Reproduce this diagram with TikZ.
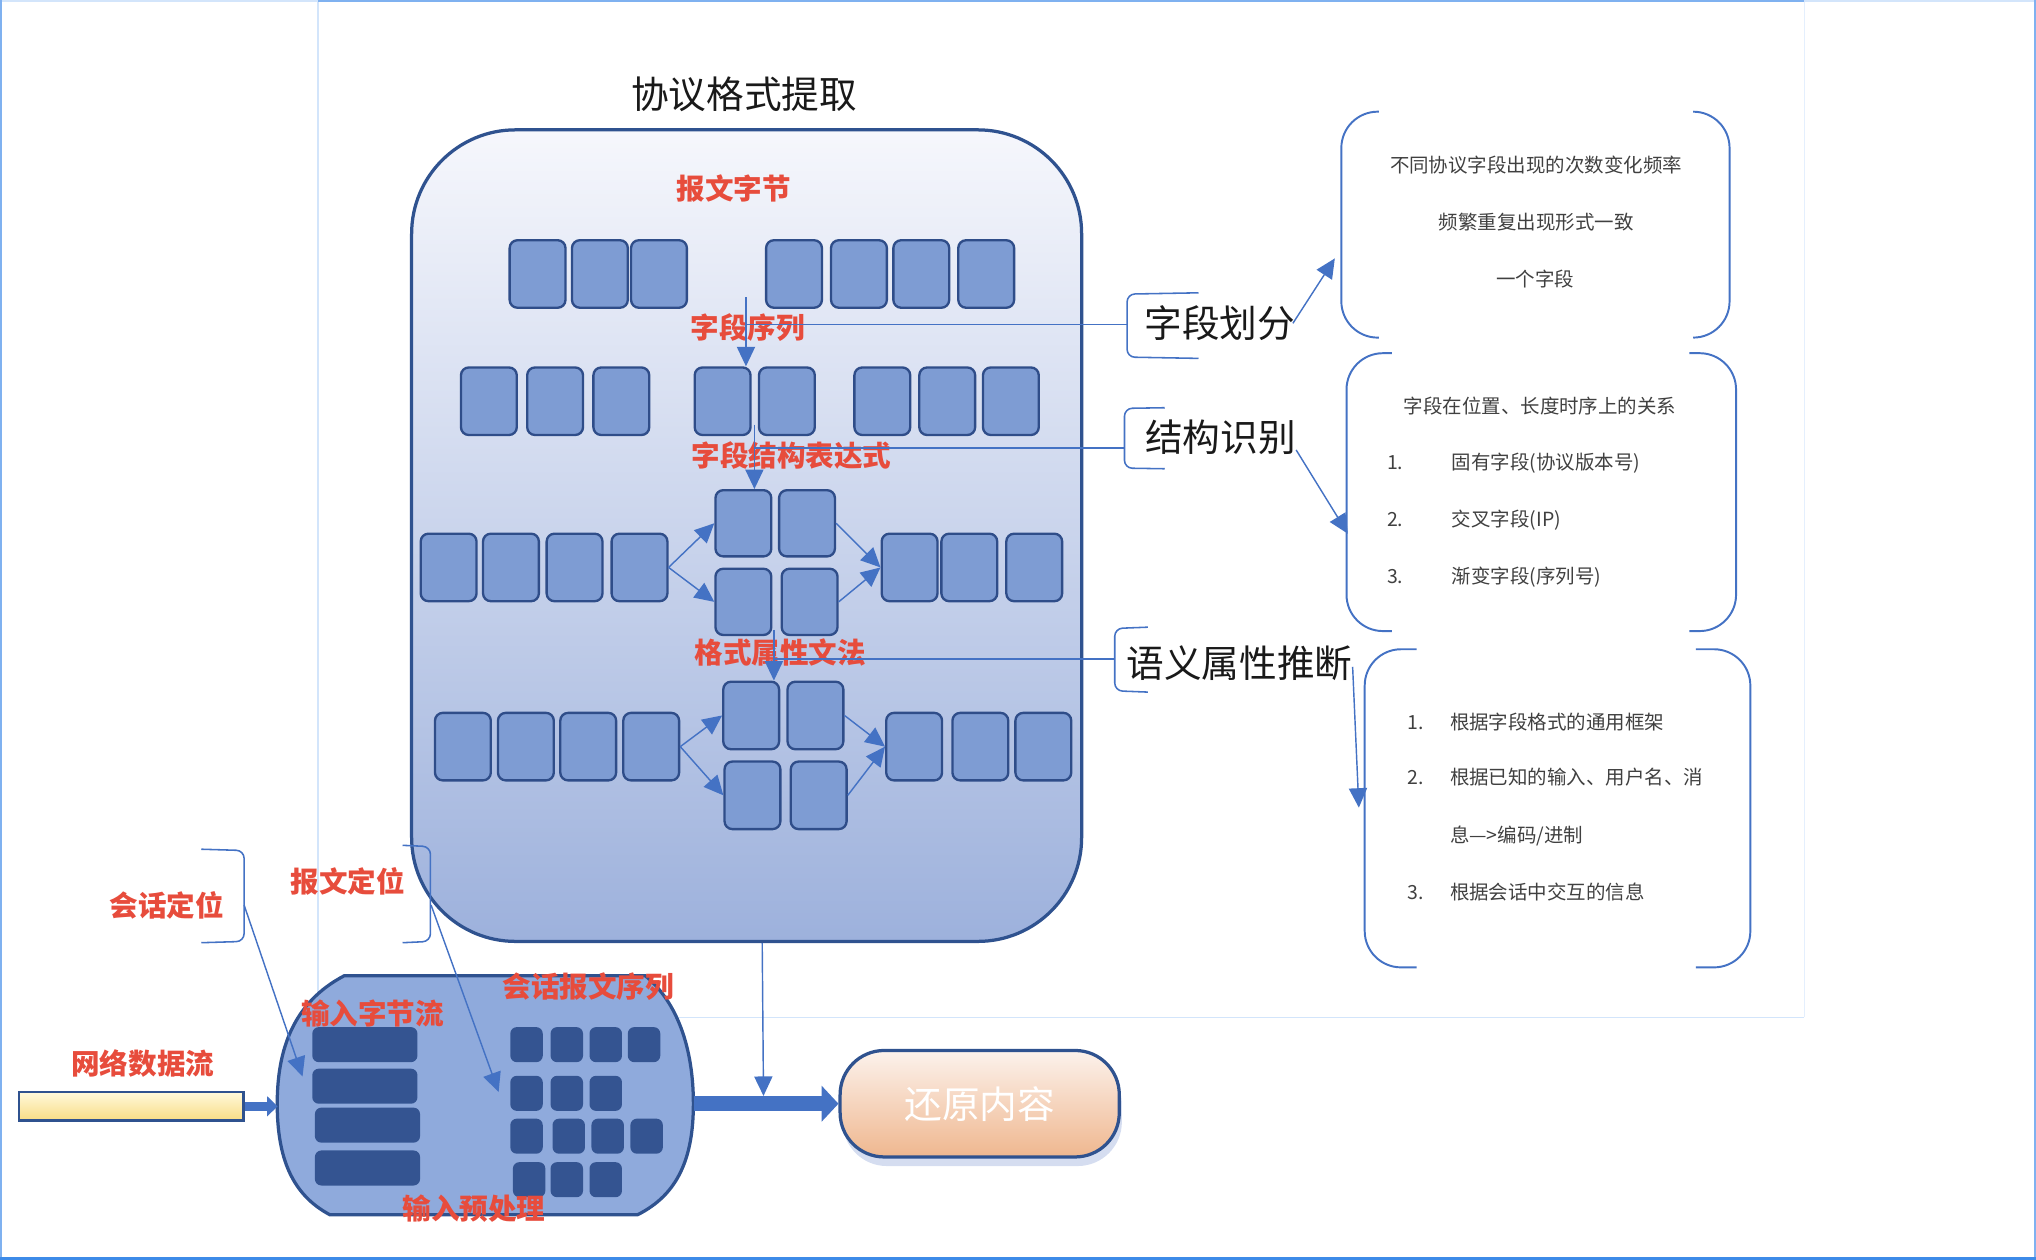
\documentclass[tikz,border=0pt]{standalone}
\usepackage{fontspec}
\setmainfont{Noto Sans CJK SC}
\usetikzlibrary{arrows.meta,shadows}

\definecolor{linkblue}{HTML}{4472C4}
\definecolor{edgeblue}{HTML}{2F528F}
\definecolor{celledge}{HTML}{2F4D89}
\definecolor{cellfill}{HTML}{7E9CD3}
\definecolor{darkcell}{HTML}{345491}
\definecolor{prefill}{HTML}{8FAADC}
\definecolor{boxtop}{HTML}{F6F7FC}
\definecolor{boxbot}{HTML}{9DB1DC}
\definecolor{labred}{HTML}{E74C3C}
\definecolor{peachtop}{HTML}{FCF2EC}
\definecolor{peachmid}{HTML}{F3C6A5}
\definecolor{peachbot}{HTML}{EFB78F}
\definecolor{yellowtop}{HTML}{FFF9DC}
\definecolor{yellowbot}{HTML}{F8DC84}
\definecolor{shadowblue}{HTML}{B9C7E6}
\definecolor{framedark}{HTML}{3D8BE8}
\definecolor{framemid}{HTML}{7FB1F0}
\definecolor{framelight}{HTML}{D3E5FB}

\begin{document}
\begin{tikzpicture}[
 x=1pt, y=-1pt,
 cell/.style={draw=celledge, fill=cellfill, line width=1.8pt, rounded corners=6pt, minimum width=43pt, minimum height=52pt, inner sep=0pt},
 dcell/.style={fill=darkcell, rounded corners=5pt, minimum width=25pt, minimum height=27pt, inner sep=0pt},
 bar/.style={dcell, minimum width=81pt},
 redlab/.style={text=labred, font=\fontsize{22}{24}\selectfont\bfseries, inner sep=0pt},
 biglab/.style={text=black!90, font=\fontsize{29}{31}\selectfont, inner sep=0pt},
 note/.style={text=black!75, font=\fontsize{15}{17}\selectfont, inner sep=0pt, text height=12pt, text depth=3pt},
 arrow/.style={draw=linkblue, line width=1.1pt, -{Triangle[length=15pt,width=14pt]}},
 link/.style={draw=linkblue, line width=1.1pt},
 brace/.style={draw=linkblue, line width=1.2pt, rounded corners=6pt},
 paren/.style={draw=linkblue, line width=1.5pt, rounded corners=28pt}
]
\useasboundingbox (0,0) rectangle (1568,970);

% 边框
\draw[framelight, line width=1pt] (245,0) -- (245,783.5) -- (1389.5,783.5);
\draw[framelight!60, line width=0.8pt] (1389.5,783.5) -- (1389.5,0);
\draw[framelight, line width=1.2pt] (0,0.6) -- (1568,0.6);
\draw[framemid, line width=1.2pt] (245,0.6) -- (1389.5,0.6);
\draw[framemid, line width=1.2pt] (0.6,0) -- (0.6,970);
\draw[framemid, line width=1.2pt] (1567.4,0) -- (1567.4,970);
\draw[framedark, line width=2.2pt] (0,968.9) -- (1568,968.9);

% 协议格式提取
\node[font=\fontsize{29}{31}\selectfont, text=black!90] (title) at (573,73) {协议格式提取};
\node[draw=edgeblue, line width=2.5pt, rounded corners=80pt, minimum width=516pt, minimum height=625pt, top color=boxtop, bottom color=boxbot] (fmt) at (575,412.5) {};

% 报文字节
\node[cell] (a1) at (414,211) {};
\node[cell] (a2) at (462,211) {};
\node[cell] (a3) at (507.5,211) {};
\node[cell] (a4) at (611.5,211) {};
\node[cell] (a5) at (661.5,211) {};
\node[cell] (a6) at (709.5,211) {};
\node[cell] (a7) at (759.5,211) {};

% 字段序列
\node[cell] (b1) at (376.5,309) {};
\node[cell] (b2) at (427.5,309) {};
\node[cell] (b3) at (478.5,309) {};
\node[cell] (b4) at (556.5,309) {};
\node[cell] (b5) at (606,309) {};
\node[cell] (b6) at (679.5,309) {};
\node[cell] (b7) at (729.5,309) {};
\node[cell] (b8) at (778.5,309) {};

% 字段结构表达式
\node[cell] (c1) at (345.5,437) {};
\node[cell] (c2) at (393.5,437) {};
\node[cell] (c3) at (442.5,437) {};
\node[cell] (c4) at (492.5,437) {};
\node[cell, minimum height=51pt] (c5) at (572.5,403) {};
\node[cell, minimum height=51pt] (c6) at (621.5,403) {};
\node[cell, minimum height=51pt] (c7) at (572.5,463.5) {};
\node[cell, minimum height=51pt] (c8) at (623.5,463.5) {};
\node[cell] (c9) at (700.5,437) {};
\node[cell] (c10) at (746.5,437) {};
\node[cell] (c11) at (796.5,437) {};

% 格式属性文法
\node[cell] (d1) at (356.5,575) {};
\node[cell] (d2) at (405,575) {};
\node[cell] (d3) at (453,575) {};
\node[cell] (d4) at (501.5,575) {};
\node[cell] (d5) at (578.5,551) {};
\node[cell] (d6) at (628,551) {};
\node[cell] (d7) at (579.5,612.5) {};
\node[cell] (d8) at (630.5,612.5) {};
\node[cell] (d9) at (704,575) {};
\node[cell] (d10) at (755,575) {};
\node[cell] (d11) at (803.5,575) {};

% 红色标签
\node[redlab] (bytes) at (565,145) {报文字节};
\node[redlab] (seq) at (576,252) {字段序列};
\node[redlab] (expr) at (609.5,351) {字段结构表达式};
\node[redlab] (gram) at (601,502.5) {格式属性文法};

% 框内箭头
\coordinate (s1) at (574.5,229);
\coordinate (s2) at (581,327);
\coordinate (s3) at (596,485);
\draw[arrow] (s1) -- (s1 |- b4.north);
\draw[arrow] (s2) -- (s2 |- c5.north);
\draw[arrow] (s3) -- (s3 |- d5.north);
\draw[arrow] (c4.east) -- (c5.west);
\draw[arrow] (c4.east) -- (c7.west);
\draw[arrow] (c6.east) -- (c9.west);
\draw[arrow] (c8.east) -- (c9.west);
\draw[arrow] (d4.east) -- (d5.west);
\draw[arrow] (d4.east) -- (d7.west);
\draw[arrow] (d6.east) -- (d9.west);
\draw[arrow] (d8.east) -- (d9.west);

% 右侧分支
\node[biglab] (div) at (939.5,249) {字段划分};
\node[biglab] (struct) at (940,336.5) {结构识别};
\node[biglab] (sem) at (954.5,510.5) {语义属性推断};

\draw[brace] (923,225.5) -- (868,226.5) -- (868,275) -- (923,276);
\draw[brace] (897,314) -- (866,314.5) -- (866,360.5) -- (897,361);
\draw[brace] (884,483) -- (858.5,484) -- (858.5,532) -- (884,533);
\coordinate (k1) at (868,250);
\coordinate (k2) at (866,345);
\coordinate (k3) at (858.5,507.5);
\draw[link] (k1 -| s1) -- (k1);
\draw[link] (k2 -| s2) -- (k2);
\draw[link] (k3 -| s3) -- (k3);

\coordinate (t1) at (1028,199);
\coordinate (t2) at (1038,411);
\coordinate (t3) at (1046.5,622);
\draw[arrow] ([xshift=-2pt]div.east) -- (t1);
\draw[arrow] ([yshift=-10pt]struct.east) -- (t2);
\draw[arrow] ([yshift=-3pt]sem.east) -- (t3);

% 说明框
\draw[paren] (1062,86) -- (1033,86) -- (1033,260) -- (1062,260);
\draw[paren] (1304,86) -- (1332,86) -- (1332,260) -- (1304,260);
\draw[paren] (1072,272) -- (1037,272) -- (1037,486) -- (1072,486);
\draw[paren] (1301,272) -- (1337,272) -- (1337,486) -- (1301,486);
\draw[paren] (1091,500) -- (1051,500) -- (1051,745) -- (1091,745);
\draw[paren] (1306,500) -- (1348,500) -- (1348,745) -- (1306,745);

\node[note] (g1a) at (1183,128) {不同协议字段出现的次数变化频率};
\node[note] (g1b) at (1183,172) {频繁重复出现形式一致};
\node[note] (g1c) at (1182.5,216) {一个字段};

\node[note] (g2a) at (1186,314) {字段在位置、长度时序上的关系};
\node[note, anchor=west] (g2n1) at (1068,357) {1.};
\node[note, anchor=west] (g2b) at (1118,357) {固有字段(协议版本号)};
\node[note, anchor=west] (g2n2) at (1068,401) {2.};
\node[note, anchor=west] (g2c) at (1118,401) {交叉字段(IP)};
\node[note, anchor=west] (g2n3) at (1068,445) {3.};
\node[note, anchor=west] (g2d) at (1118,445) {渐变字段(序列号)};

\node[note, anchor=west] (g3n1) at (1084,557) {1.};
\node[note, anchor=west] (g3a) at (1116.5,557) {根据字段格式的通用框架};
\node[note, anchor=west] (g3n2) at (1084,600) {2.};
\node[note, anchor=west] (g3b) at (1116.5,600) {根据已知的输入、用户名、消};
\node[note, anchor=west] (g3c) at (1116.5,644) {息—>编码/进制};
\node[note, anchor=west] (g3n3) at (1084,688) {3.};
\node[note, anchor=west] (g3d) at (1116.5,688) {根据会话中交互的信息};

% 输入预处理
\node[minimum width=320pt, minimum height=184pt, inner sep=0pt] (pre) at (374,843.5) {};
\draw[edgeblue, line width=2.5pt, fill=prefill]
 (265,751.5) -- (497,751.5) .. controls (522,772) and (534,808) .. (534,850)
 .. controls (534,892) and (522,920) .. (491,935.5) -- (254,935.5)
 .. controls (225,920) and (213.5,892) .. (213.5,850)
 .. controls (213.5,808) and (226,772) .. (265,751.5) -- cycle;

\node[bar] (w1) at (281,804.5) {};
\node[bar] (w2) at (281,836.5) {};
\node[bar] (w3) at (283,866.5) {};
\node[bar] (w4) at (283,899.5) {};

\node[dcell] (m1) at (405.5,804.5) {};
\node[dcell] (m2) at (436.5,804.5) {};
\node[dcell] (m3) at (466.5,804.5) {};
\node[dcell] (m4) at (496,804.5) {};
\node[dcell] (m5) at (405.5,842) {};
\node[dcell] (m6) at (436.5,842) {};
\node[dcell] (m7) at (466.5,842) {};
\node[dcell] (m8) at (405.5,875) {};
\node[dcell] (m9) at (438,875) {};
\node[dcell] (m10) at (468,875) {};
\node[dcell] (m11) at (498,875) {};
\node[dcell] (m12) at (407.5,908.5) {};
\node[dcell] (m13) at (436.5,908.5) {};
\node[dcell] (m14) at (466.5,908.5) {};

\node[redlab] (inlab) at (287,780.5) {输入字节流};
\node[redlab] (seqlab) at (453,760) {会话报文序列};
\node[redlab] (prelab) at (365,931) {输入预处理};

% 网络数据流
\node[draw=edgeblue, line width=2pt, top color=yellowtop, bottom color=yellowbot, minimum width=173pt, minimum height=22pt, inner sep=0pt] (net) at (101,852) {};
\node[redlab] (netlab) at (110,819) {网络数据流};
\draw[linkblue, line width=7pt, -{Triangle[length=8pt,width=15pt]}] (net.east) -- (net.east -| pre.west);

% 还原内容
\node[draw=edgeblue, line width=2.5pt, rounded corners=34pt, minimum width=215pt, minimum height=82pt, top color=peachtop, middle color=peachmid, bottom color=peachbot, text=white, font=\fontsize{29}{31}\selectfont, drop shadow={shadow xshift=2pt, shadow yshift=-7pt, fill=shadowblue, opacity=0.6}] (restore) at (754.5,850) {还原内容};
\draw[linkblue, line width=11.5pt, -{Triangle[length=13pt,width=27pt]}] (restore.west -| pre.east) -- (restore.west);

\coordinate (drop) at (588,844);
\draw[arrow] ([xshift=12pt]fmt.south) -- (drop);

% 会话定位, 报文定位
\node[redlab] (sess) at (128.5,697.5) {会话定位};
\node[redlab] (msg) at (268,679) {报文定位};
\draw[brace] (155,654) -- (188,655) -- (188,725) -- (155,726);
\draw[brace] (310,651) -- (331.5,652) -- (331.5,725) -- (310,726);
\coordinate (k4) at (188,697);
\coordinate (k5) at (332,697);
\coordinate (t4) at (233,829);
\coordinate (t5) at (384,841);
\draw[arrow] (k4) -- (t4);
\draw[arrow] (k5) -- (t5);

\end{tikzpicture}
\end{document}
